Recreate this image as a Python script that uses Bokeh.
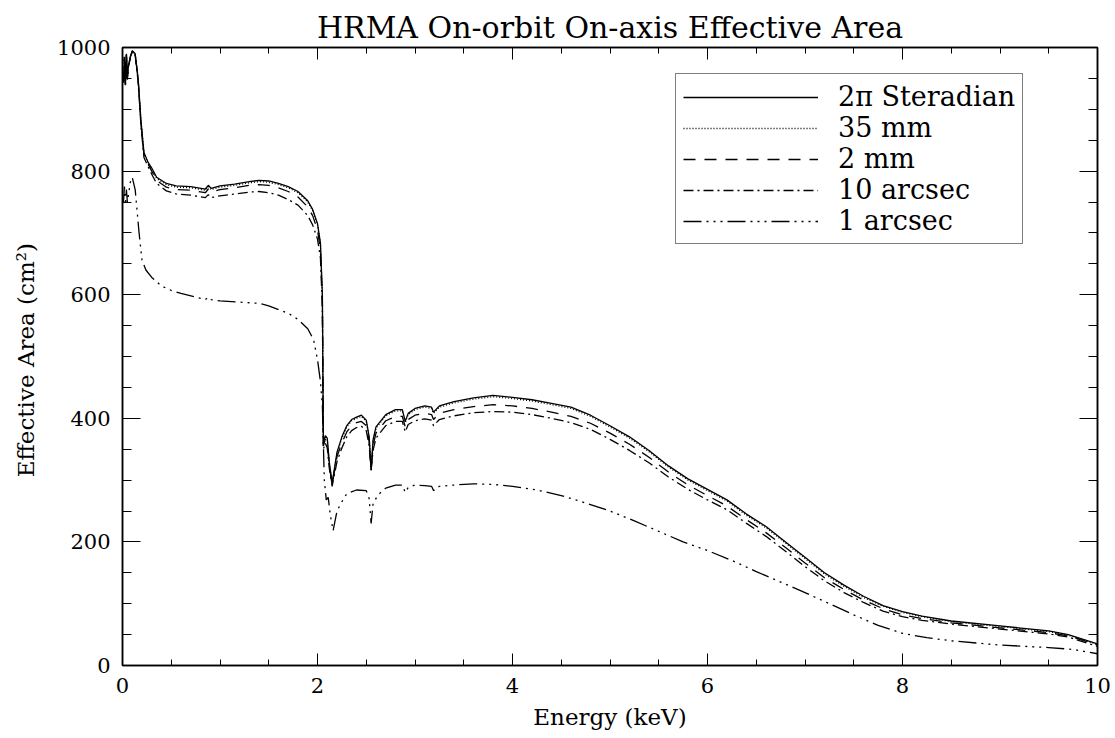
from bokeh.plotting import figure
from bokeh.models import Range1d, LinearAxis, Legend, LegendItem, FixedTicker
from bokeh.embed import file_html
from bokeh.resources import INLINE

# ---- data ----
energy = [0.01, 0.02, 0.03, 0.04, 0.05, 0.06, 0.08, 0.10, 0.13, 0.16, 0.19, 0.22, 0.26, 0.30, 0.35,
          0.45, 0.55, 0.70, 0.85, 0.88, 0.91, 1.0, 1.15, 1.3, 1.4, 1.5, 1.6, 1.7, 1.8, 1.9, 1.95,
          2.0, 2.03, 2.05, 2.06, 2.08, 2.1, 2.12, 2.15, 2.2, 2.25, 2.3, 2.35, 2.4, 2.45, 2.5, 2.53,
          2.55, 2.57, 2.6, 2.7, 2.8, 2.87, 2.9, 2.93, 3.0, 3.1, 3.17, 3.19, 3.25, 3.4, 3.6, 3.8,
          4.0, 4.2, 4.4, 4.6, 4.8, 5.0, 5.2, 5.4, 5.6, 5.8, 6.0, 6.2, 6.4, 6.6, 6.8, 7.0, 7.2, 7.4,
          7.6, 7.8, 8.0, 8.2, 8.5, 9.0, 9.5, 9.7, 10.0]

steradian_2pi = [945, 985, 940, 990, 950, 970, 985, 995, 990, 950, 880, 830, 815, 805, 790,
                 780, 776, 775, 771, 777, 772, 776, 779, 783, 785, 784, 780, 775, 767, 752, 738,
                 715, 684, 600, 360, 372, 368, 330, 295, 345, 370, 388, 398, 402, 405, 397, 370,
                 316, 365, 386, 406, 414, 414, 395, 408, 416, 420, 418, 410, 420, 427, 433, 437,
                 434, 430, 424, 418, 405, 388, 370, 348, 323, 302, 285, 268, 245, 225, 200, 175, 150, 130,
                 112, 97, 87, 80, 72, 64, 56, 50, 35]

mm_35 = [944, 984, 939, 989, 949, 969, 984, 994, 989, 949, 879, 829, 814, 803, 788,
         778, 774, 773, 769, 775, 770, 774, 777, 781, 783, 782, 778, 773, 765, 750, 736,
         713, 682, 598, 359, 371, 366, 329, 294, 343, 368, 386, 396, 400, 403, 395, 368,
         316, 363, 384, 404, 412, 412, 393, 406, 414, 418, 416, 408, 418, 425, 431, 435,
         432, 428, 422, 416, 403, 386, 368, 346, 321, 300, 283, 266, 243, 223, 198, 173, 148, 128,
         110, 96, 86, 79, 71, 63, 55, 49, 34]

mm_2 = [944, 984, 939, 989, 949, 969, 984, 994, 989, 948, 876, 826, 812, 800, 785,
        774, 770, 769, 765, 771, 766, 770, 773, 777, 778, 777, 773, 767, 758, 742, 728,
        705, 672, 590, 355, 366, 360, 325, 292, 338, 360, 378, 388, 393, 395, 388, 362,
        316, 356, 376, 396, 403, 403, 386, 398, 405, 408, 406, 398, 408, 414, 419, 422,
        420, 416, 410, 403, 392, 376, 358, 337, 313, 292, 275, 258, 236, 215, 191, 166, 142, 123,
        106, 92, 82, 76, 69, 61, 53, 48, 33]

arcsec_10 = [943, 983, 938, 988, 948, 968, 983, 993, 987, 945, 872, 822, 808, 795, 780,
             768, 763, 761, 757, 762, 757, 760, 763, 766, 767, 765, 761, 754, 745, 728, 713,
             690, 660, 580, 350, 360, 352, 320, 290, 330, 352, 370, 380, 385, 387, 380, 356,
             316, 348, 368, 388, 395, 395, 378, 390, 396, 399, 397, 388, 398, 404, 409, 411,
             410, 406, 400, 393, 382, 366, 348, 328, 305, 285, 268, 252, 230, 209, 185, 160, 137, 118,
             102, 88, 79, 73, 67, 59, 51, 46, 31]

energy_1as = [0.01, 0.02, 0.03, 0.04, 0.05, 0.06, 0.08, 0.10, 0.13, 0.15, 0.17, 0.2, 0.24, 0.3, 0.4,
              0.5, 0.6, 0.75, 0.85, 0.88, 0.91, 1.0, 1.2, 1.4, 1.5, 1.6, 1.7, 1.8, 1.9, 1.96, 2.0,
              2.03, 2.05, 2.07, 2.09, 2.11, 2.13, 2.16, 2.2, 2.25, 2.3, 2.4, 2.5, 2.53, 2.55, 2.57,
              2.62, 2.7, 2.8, 2.87, 2.9, 2.93, 3.0, 3.1, 3.17, 3.19, 3.25, 3.4, 3.6, 3.8, 4.0, 4.25,
              4.5, 4.75, 5.0, 5.25, 5.5, 5.75, 6.0, 6.25, 6.5, 6.75, 7.0, 7.25, 7.5, 7.75, 8.0, 8.25,
              8.5, 9.0, 9.5, 9.75, 10.0]
arcsec_1 = [750, 775, 745, 770, 750, 760, 782, 790, 770, 735, 700, 656, 640, 628, 614,
            607, 602, 596, 592, 596, 592, 590, 588, 586, 582, 576, 570, 560, 545, 527, 495,
            460, 420, 300, 268, 272, 245, 218, 250, 265, 278, 284, 283, 270, 230, 262,
            276, 287, 292, 292, 280, 288, 292, 291, 290, 283, 290, 292, 294, 293, 290, 284,
            275, 263, 250, 234, 217, 200, 186, 170, 152, 135, 118, 100, 82, 65, 52, 45,
            40, 33, 29, 26, 19]

labels = ["2\u03c0 Steradian", "35 mm", "2 mm", "10 arcsec", "1 arcsec"]
x_ticks = [0, 2, 4, 6, 8, 10]
y_ticks = [0, 200, 400, 600, 800, 1000]

SERIF = "DejaVu Serif"

p = figure(width=1115, height=738, output_backend="svg", toolbar_location=None,
           x_range=Range1d(0, 10), y_range=Range1d(0, 1000),
           min_border_left=122, min_border_right=18, min_border_top=47, min_border_bottom=73,
           title="HRMA On-orbit On-axis Effective Area")
p.title.align = "center"
p.title.text_font = SERIF
p.title.text_font_style = "normal"
p.title.text_font_size = "30px"
p.title.text_color = "black"
p.title.standoff = 5

p.grid.visible = False
p.outline_line_color = "black"
p.outline_line_width = 1.5
p.background_fill_color = "white"
p.border_fill_color = "white"

def style_x(ax, show):
    ax.ticker = FixedTicker(ticks=x_ticks, minor_ticks=[i * 0.5 for i in range(21)])
    ax.major_tick_in = 12
    ax.major_tick_out = 0
    ax.minor_tick_in = 6
    ax.minor_tick_out = 0
    ax.axis_line_color = "black"
    ax.axis_line_width = 1.5
    ax.major_tick_line_color = "black"
    ax.minor_tick_line_color = "black"
    ax.major_label_text_font = SERIF
    ax.major_label_text_font_size = "21px"
    ax.major_label_text_color = "black"
    ax.major_label_standoff = 12
    if not show:
        ax.major_label_overrides = {t: "" for t in x_ticks}
        ax.major_label_standoff = 0

def style_y(ax, show):
    ax.ticker = FixedTicker(ticks=y_ticks, minor_ticks=list(range(0, 1001, 50)))
    ax.major_tick_in = 18
    ax.major_tick_out = 0
    ax.minor_tick_in = 9
    ax.minor_tick_out = 0
    ax.axis_line_color = "black"
    ax.axis_line_width = 1.5
    ax.major_tick_line_color = "black"
    ax.minor_tick_line_color = "black"
    ax.major_label_text_font = SERIF
    ax.major_label_text_font_size = "21px"
    ax.major_label_text_color = "black"
    ax.major_label_standoff = 12
    if not show:
        ax.major_label_overrides = {t: "" for t in y_ticks}
        ax.major_label_standoff = 0

style_x(p.xaxis[0], True)
style_y(p.yaxis[0], True)
p.xaxis[0].axis_label = "Energy (keV)"
p.yaxis[0].axis_label = "Effective Area  (cm\u00b2)"
for ax in (p.xaxis[0], p.yaxis[0]):
    ax.axis_label_text_font = SERIF
    ax.axis_label_text_font_style = "normal"
    ax.axis_label_text_font_size = "23px"
    ax.axis_label_text_color = "black"
p.xaxis[0].axis_label_standoff = 8
p.yaxis[0].axis_label_standoff = 15

top_ax = LinearAxis()
style_x(top_ax, False)
p.add_layout(top_ax, "above")
right_ax = LinearAxis()
style_y(right_ax, False)
p.add_layout(right_ax, "right")

lw = 1.3
r1 = p.line(energy, steradian_2pi, line_color="black", line_width=lw)
r2 = p.line(energy, mm_35, line_color="black", line_width=lw, line_dash="1 2")
r3 = p.line(energy, mm_2, line_color="black", line_width=lw, line_dash="12 9")
r4 = p.line(energy, arcsec_10, line_color="black", line_width=lw, line_dash="10 4 2 4")
r5 = p.line(energy_1as, arcsec_1, line_color="black", line_width=lw, line_dash="18 5 2 5 2 5 2 5")

legend = Legend(items=[LegendItem(label=l, renderers=[r]) for l, r in
                       zip(labels, [r1, r2, r3, r4, r5])],
                location=(553, 421))
legend.label_text_font = SERIF
legend.label_text_font_size = "27px"
legend.label_text_color = "black"
legend.glyph_width = 135
legend.glyph_height = 30
legend.label_height = 30
legend.label_standoff = 20
legend.spacing = 0
legend.padding = 7
legend.margin = 0
legend.border_line_color = "black"
legend.border_line_width = 1
legend.background_fill_alpha = 1
p.add_layout(legend, "center")

open("out.html", "w").write(file_html(p, INLINE))
